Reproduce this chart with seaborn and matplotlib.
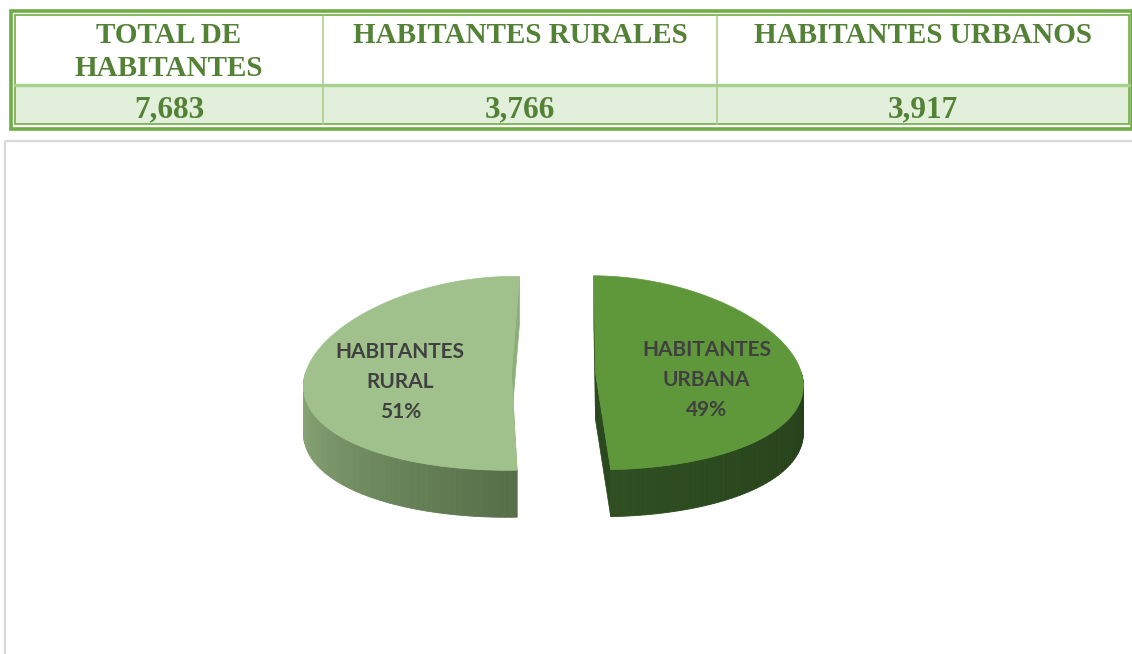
import numpy as np
import matplotlib
matplotlib.use("Agg")
import matplotlib.pyplot as plt
from matplotlib.patches import Polygon, Rectangle
import seaborn as sns

# ---- data ----
header_labels = ["TOTAL DE\nHABITANTES", "HABITANTES RURALES", "HABITANTES URBANOS"]
header_values = [7683, 3766, 3917]
pie_labels = ["HABITANTES\nRURAL", "HABITANTES\nURBANA"]
pie_shares = [51, 49]

sns.set_theme(style="white")
plt.rcParams["font.family"] = ["DejaVu Sans"]

W, H = 1132, 654
fig = plt.figure(figsize=(W / 100, H / 100), dpi=100)
ax = fig.add_axes([0, 0, 1, 1])
ax.set_xlim(0, W)
ax.set_ylim(H, 0)
ax.axis("off")

green = "#70AD47"
light_green = "#A8D08D"
text_green = "#538135"
serif = ["Liberation Serif", "DejaVu Serif"]

# ---- table on top ----
col_edges = [15, 323, 717, 1129]
ax.add_patch(Rectangle((15, 86), 1114, 38, facecolor="#E2EFDA", edgecolor="none"))
ax.add_patch(Rectangle((11, 11), 1121, 117.5, fill=False, edgecolor=green, lw=2.6))
ax.add_patch(Rectangle((14.8, 14.8), 1114.2, 109.6, fill=False, edgecolor=green, lw=1.2))
ax.plot([15, 1129], [85, 85], color=light_green, lw=2.4)
for x in col_edges[1:-1]:
    ax.plot([x, x], [15.5, 123.5], color=light_green, lw=1.2)

for i, (lab, val) in enumerate(zip(header_labels, header_values)):
    xc = (col_edges[i] + col_edges[i + 1]) / 2
    for j, line in enumerate(lab.split("\n")):
        ax.text(xc, 43 + j * 33, line, ha="center", va="baseline",
                fontsize=21, fontweight="bold", color=text_green, family=serif)
    ax.text(xc, 117, f"{val:,}", ha="center", va="baseline",
            fontsize=22.5, fontweight="bold", color=text_green, family=serif)

# ---- chart frame ----
ax.add_patch(Rectangle((4.5, 140.5), 1200, 600, fill=False, edgecolor="#D9D9D9", lw=1.6))

# ---- 3D exploded pie (simple perspective: front wider than back) ----
CX, CY = 553.5, 373
RX, RY = 206, 97
DEPTH = 47
EXPLODE = 42
START = 89
PERSP = 0.115

top_colors = ["#A0C18C", "#5F983B"]
cut_colors = ["#8CAE78", "#2B491E"]
side_colors = [("#8FAC7A", "#566F49"), ("#2F4F21", "#243E19")]


def ell(theta, ox, oy):
    t = np.radians(theta)
    return ox + RX * np.cos(t), oy - RY * np.sin(t)


def poly(xs, ys, drop, color, lw=0.5):
    # perspective scale taken from the position on the pie plane, drop = extrusion
    xs = np.asarray(xs, dtype=float)
    ys = np.asarray(ys, dtype=float)
    s = 1 + PERSP * (ys - CY) / RY
    px = CX + (xs - CX) * s
    py = ys + np.asarray(drop, dtype=float)
    ax.add_patch(Polygon(np.column_stack([px, py]), closed=True,
                         facecolor=color, edgecolor=color, lw=lw))


fracs = np.array(pie_shares, dtype=float) / sum(pie_shares)
a0 = START
for i, frac in enumerate(fracs):
    a1 = a0 + 360 * frac
    mid = (a0 + a1) / 2
    ox = CX + EXPLODE * np.cos(np.radians(mid))
    oy = CY - EXPLODE * np.sin(np.radians(mid)) * RY / RX

    # cut faces
    for a in (a0, a1):
        px, py = ell(a, ox, oy)
        poly([ox, px, px, ox], [oy, py, py, oy], [0, 0, DEPTH, DEPTH], cut_colors[i])

    # front outer wall
    for k in range(-1, 2):
        lo = max(a0, k * 360 + 180)
        hi = min(a1, k * 360 + 360)
        if hi <= lo:
            continue
        n = 60
        th = np.linspace(lo, hi, n + 1)
        xs, ys = ell(th, ox, oy)
        pal = sns.blend_palette(list(side_colors[i]), n)
        for s in range(n):
            poly([xs[s], xs[s + 1], xs[s + 1], xs[s]],
                 [ys[s], ys[s + 1], ys[s + 1], ys[s]],
                 [0, 0, DEPTH, DEPTH], pal[s], lw=0.6)

    # top face
    th = np.linspace(a0, a1, 300)
    xs, ys = ell(th, ox, oy)
    poly(np.r_[ox, xs], np.r_[oy, ys], 0, top_colors[i])

    # label
    lx, ly = ell(mid, ox, oy)
    lx = ox + 0.54 * (lx - ox)
    ly = oy + 0.54 * (ly - oy) + 14
    lines = pie_labels[i].split("\n") + [f"{pie_shares[i]:.0f}%"]
    for j, line in enumerate(lines):
        ax.text(lx, ly + (j - 1) * 30, line, ha="center", va="baseline",
                fontsize=15, fontweight="bold", color="#404040",
                family=["Lato", "DejaVu Sans"])
    a0 = a1

fig.savefig("out.png", dpi=100)
